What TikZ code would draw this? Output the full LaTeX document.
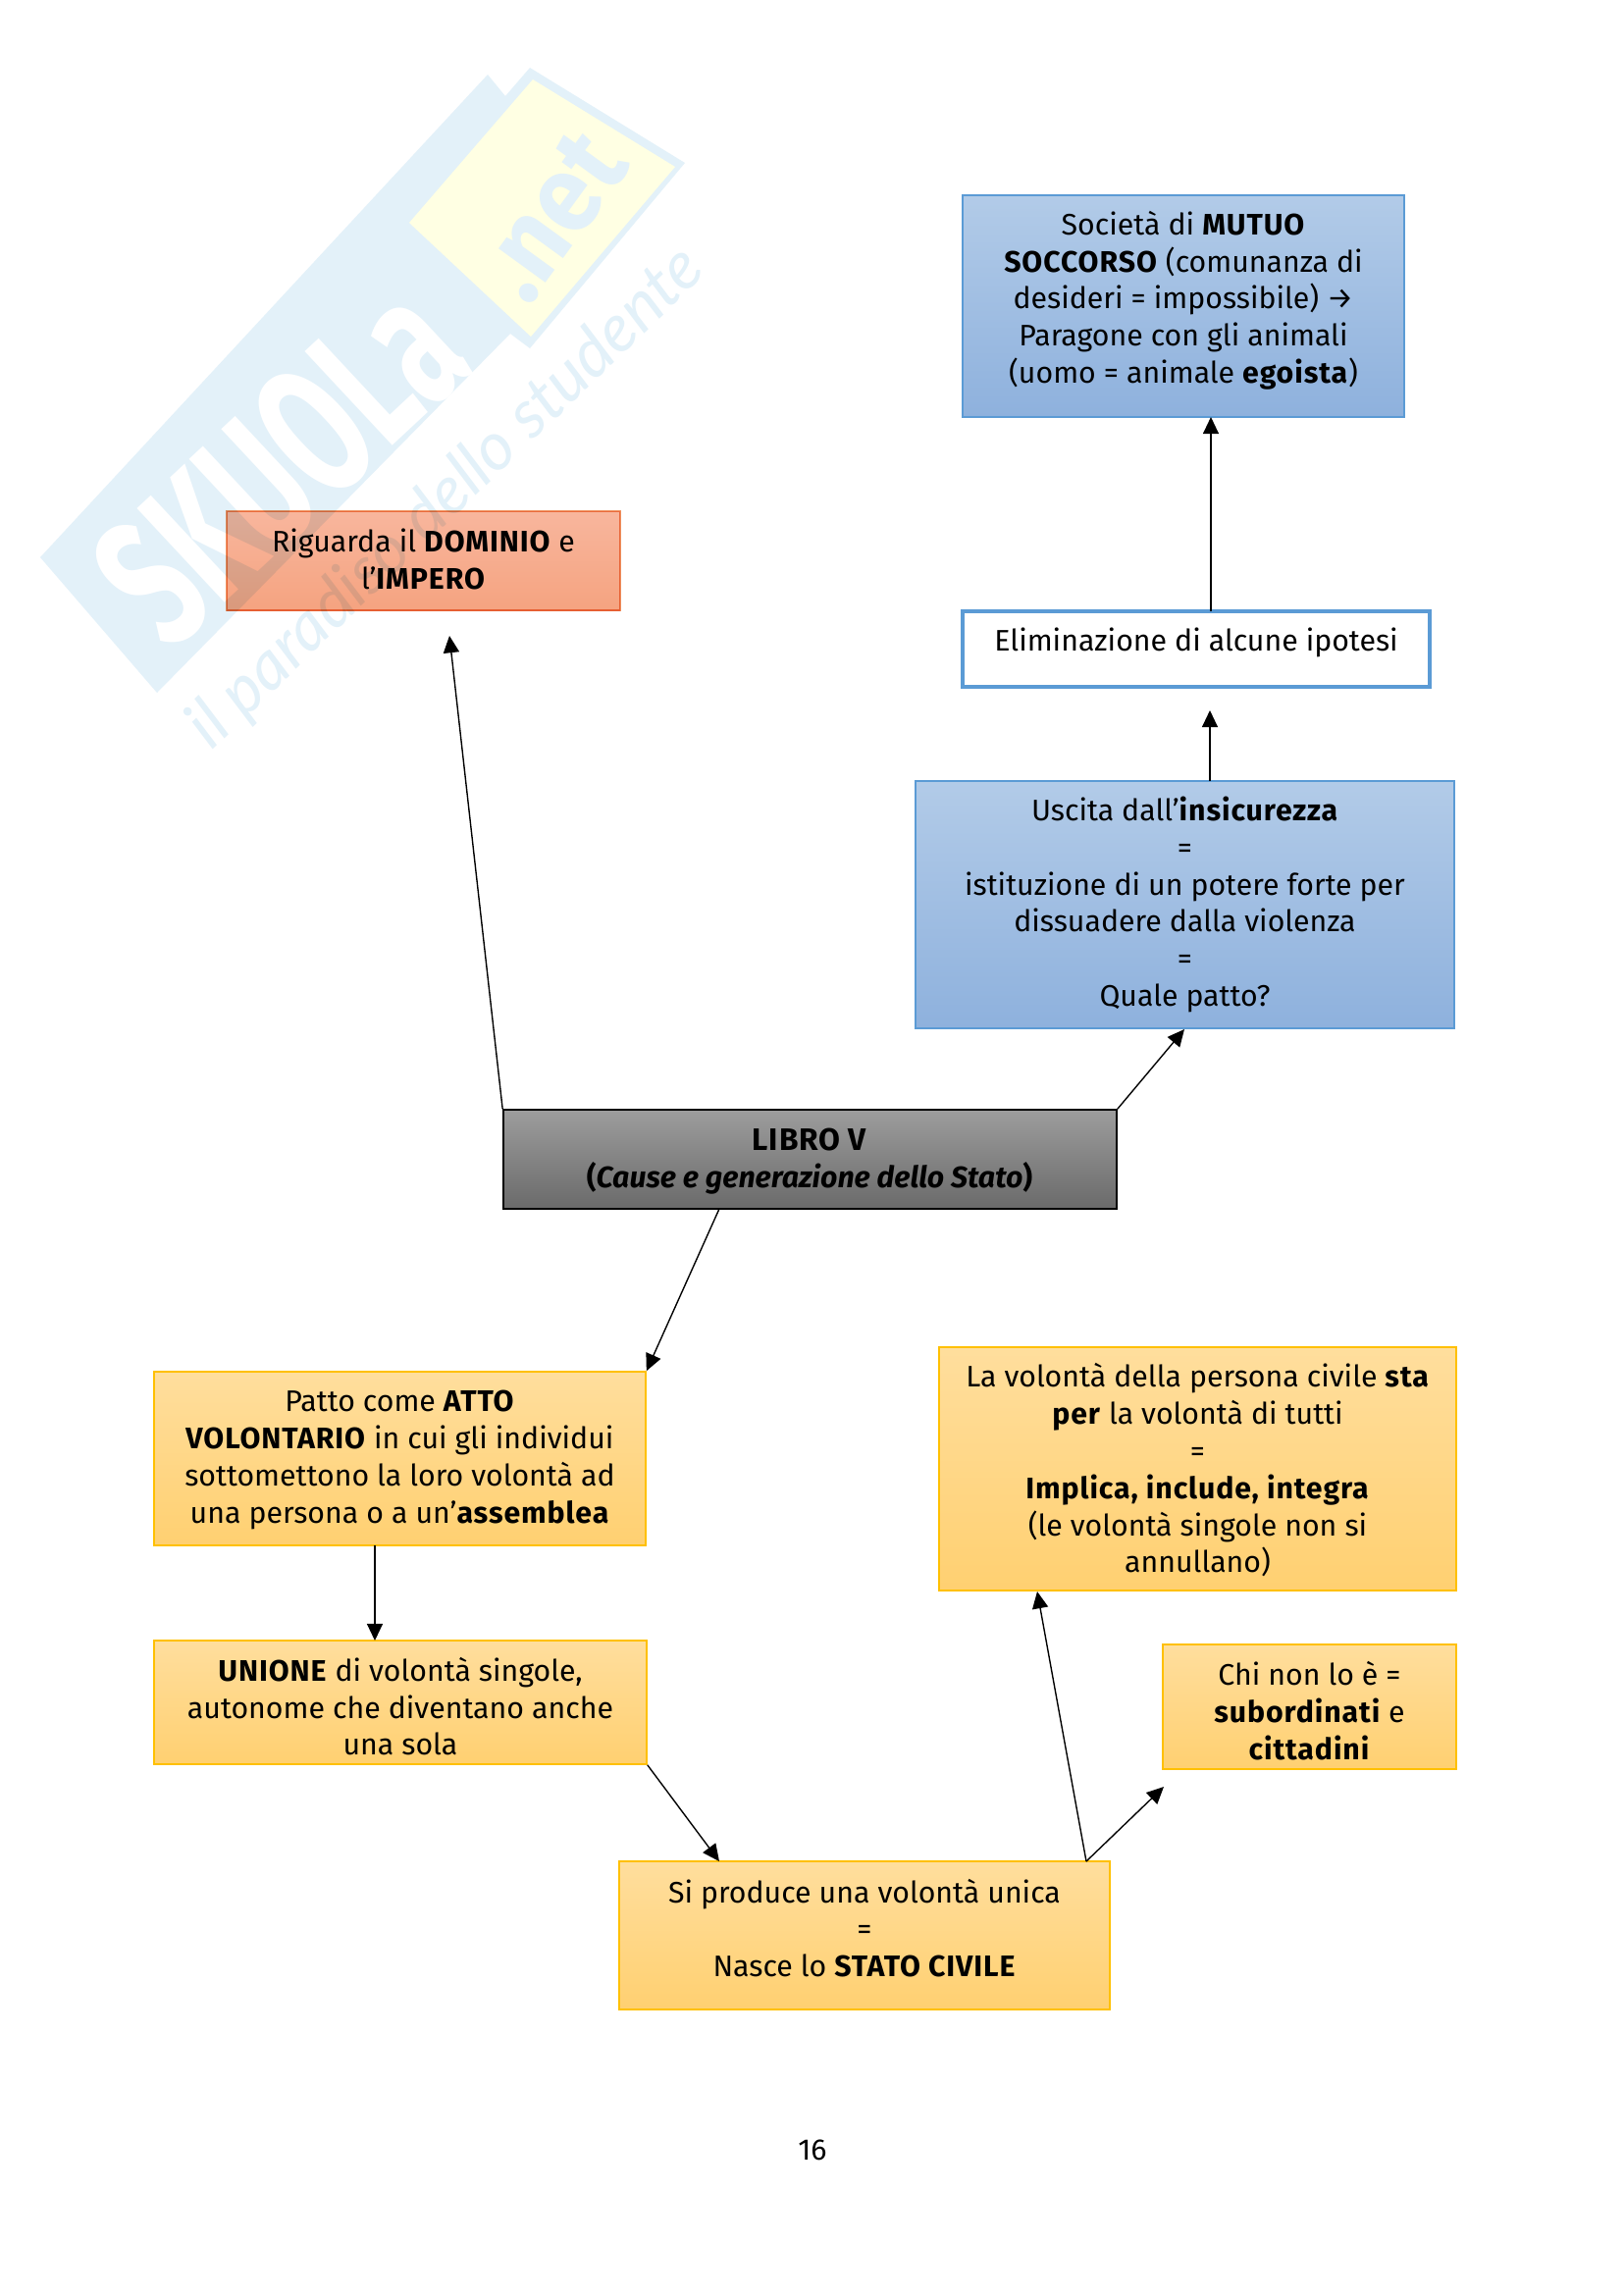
\documentclass[tikz,border=0pt]{standalone}
\usepackage{fontspec}
\setmainfont{Fira Sans}[BoldFeatures={LetterSpace=3.0}]
\newfontfamily\wmfont{Fira Sans}
\newfontfamily\wmscript{Lato}
\usetikzlibrary{arrows.meta,calc}
\definecolor{wmblue}{RGB}{227,241,249}
\definecolor{wmyellow}{RGB}{255,255,227}
\definecolor{bluetop}{RGB}{178,203,232}
\definecolor{bluebot}{RGB}{142,177,221}
\definecolor{blueline}{RGB}{91,155,213}
\definecolor{oratop}{RGB}{248,182,157}
\definecolor{orabot}{RGB}{245,163,128}
\definecolor{oraline}{RGB}{240,150,100}
\definecolor{graytop}{RGB}{157,157,157}
\definecolor{graybot}{RGB}{106,106,106}
\definecolor{yeltop}{RGB}{255,222,157}
\definecolor{yelbot}{RGB}{255,208,113}
\definecolor{yelline}{RGB}{255,192,0}
\tikzset{
  x=0.36pt,y=-0.36pt,
  box/.style={inner sep=0pt,line width=0.6pt},
  txt/.style={inner sep=0pt,align=center,font=\fontsize{10.9}{13.6}\selectfont},
  bluebox/.style={box,draw=blueline,top color=bluetop,bottom color=bluebot},
  orabox/.style={box,draw=oraline,top color=oratop,bottom color=orabot},
  graybox/.style={box,draw=black,top color=graytop,bottom color=graybot},
  yelbox/.style={box,draw=yelline,top color=yeltop,bottom color=yelbot},
  whitebox/.style={box,draw=blueline,fill=white,line width=1.1pt},
  arr/.style={draw=black,line width=0.5pt,-{Triangle[length=6.2pt,width=5.8pt]}}
}
\newcommand{\bx}[8]{\node[#2,minimum width={(#5-#3)*0.36pt},minimum height={(#6-#4)*0.36pt},label={[txt,yshift=#7pt]center:{#8}}] (#1) at ({(#3+#5)/2},{(#4+#6)/2}) {};}
\begin{document}
\begin{tikzpicture}
\useasboundingbox (0,0) rectangle (1654,2339);
\fill[white] (0,0) rectangle (1654,2339);
% watermark
\fill[wmblue] (41,568) -- (497,76) -- (515,98) -- (540,69) -- (698,166) -- (540,355) -- (520,340) -- (160,706) -- cycle;
\fill[wmyellow] (417,227) -- (543,81) -- (688,170) -- (541,343) -- cycle;
\node[text=white,rotate=43,xscale=.63,transform shape,inner sep=0pt,font={\wmfont\bfseries\fontsize{68}{68}\selectfont}] (wmname) at (285,472) {SKUOLa};
\node[text=wmblue,rotate=54,xscale=.92,transform shape,inner sep=0pt,font={\wmfont\bfseries\fontsize{40}{40}\selectfont}] (wmnet) at (562,220) {.net};
\node[text=wmblue,rotate=44,transform shape,inner sep=0pt,font={\wmscript\itshape\fontsize{24.5}{24.5}\selectfont}] (wmscript) at (455,508) {il paradiso dello studente};
% boxes
\begin{scope}[blend mode=multiply]
\bx{dominio}{orabox}{231}{521}{632}{622}{0.5}{Riguarda il \textbf{DOMINIO} e\\l’\textbf{IMPERO}}
\end{scope}
\bx{mutuo}{bluebox}{981}{199}{1431}{425}{2.1}{Società di \textbf{MUTUO}\\\textbf{SOCCORSO} (comunanza di\\desideri = impossibile) →\\Paragone con gli animali\\(uomo = animale \textbf{egoista})}
\bx{elim}{whitebox}{981}{623}{1457}{700}{2.4}{Eliminazione di alcune ipotesi}
\bx{uscita}{bluebox}{933}{796}{1482}{1048}{0}{Uscita dall’\textbf{insicurezza}\\=\\istituzione di un potere forte per\\dissuadere dalla violenza\\=\\Quale patto?}
\bx{libro}{graybox}{513}{1131}{1138}{1232}{-0.7}{\fontsize{11.4}{13.6}\selectfont\textbf{LIBRO V}\\\textbf{(\textit{Cause e generazione dello Stato})}}
\bx{patto}{yelbox}{157}{1398}{658}{1575}{-0.5}{Patto come \textbf{ATTO}\\\textbf{VOLONTARIO} in cui gli individui\\sottomettono la loro volontà ad\\una persona o a un’\textbf{assemblea}}
\bx{unione}{yelbox}{157}{1672}{659}{1798}{-1.5}{\textbf{UNIONE} di volontà singole,\\autonome che diventano anche\\una sola}
\bx{civile}{yelbox}{631}{1897}{1131}{2048}{2.7}{Si produce una volontà unica\\=\\Nasce lo \textbf{STATO CIVILE}}
\bx{chi}{yelbox}{1185}{1676}{1484}{1803}{-1.5}{Chi non lo è =\\\textbf{subordinati} e\\\textbf{cittadini}}
\bx{volonta}{yelbox}{957}{1373}{1484}{1621}{-0.5}{La volontà della persona civile \textbf{sta}\\\textbf{per} la volontà di tutti\\=\\\textbf{Implica, include, integra}\\(le volontà singole non si\\annullano)}
\node[txt] (pagenum) at (828,2191) {16};
% connector ends
\coordinate (tipdom) at (458,648);
\coordinate (tipusc) at (1207,1049);
\coordinate (libstart) at (733,1232);
\coordinate (uscstart) at (1233,796);
\coordinate (tipelim) at (1233,724);
\coordinate (elimstart) at (1234,623);
\coordinate (tipmutuo) at (1234,425);
\coordinate (pattostart) at (382,1575);
\coordinate (tipunione) at (382,1672);
\coordinate (tipciv) at (733,1897);
\coordinate (civstart) at (1107,1897);
\coordinate (tipchi) at (1186,1821);
\coordinate (tipvol) at (1057,1622);
\draw[arr] (libro.north west) -- (tipdom);
\draw[arr] (libro.north east) -- (tipusc);
\draw[arr] (libstart) -- (patto.north east);
\draw[arr] (uscstart) -- (tipelim);
\draw[arr] (elimstart) -- (tipmutuo);
\draw[arr] (pattostart) -- (tipunione);
\draw[arr] (unione.south east) -- (tipciv);
\draw[arr] (civstart) -- (tipchi);
\draw[arr] (civstart) -- (tipvol);
\end{tikzpicture}
\end{document}
